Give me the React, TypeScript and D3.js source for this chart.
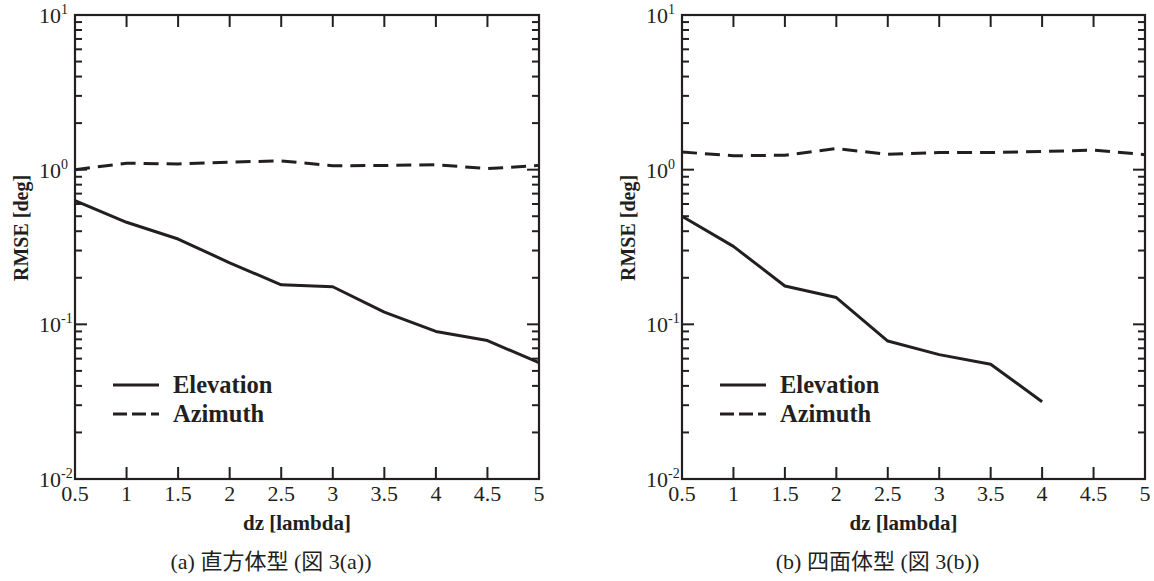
import React from "react";
import * as d3 from "d3";

const dzValues = [0.5, 1, 1.5, 2, 2.5, 3, 3.5, 4, 4.5, 5];
const xTickLabels = ["0.5", "1", "1.5", "2", "2.5", "3", "3.5", "4", "4.5", "5"];
const yDecades = [-2, -1, 0, 1];

// Panel (a) 直方体型
const elevationA = [0.63, 0.457, 0.356, 0.25, 0.18, 0.175, 0.12, 0.09, 0.0785, 0.0565];
const azimuthA = [1.0, 1.1, 1.09, 1.12, 1.14, 1.06, 1.065, 1.077, 1.015, 1.066];
// Panel (b) 四面体型
const elevationB = [0.5, 0.319, 0.177, 0.149, 0.078, 0.0637, 0.0552, 0.0316];
const azimuthB = [1.3, 1.23, 1.24, 1.37, 1.256, 1.29, 1.29, 1.31, 1.34, 1.25];

const legendLabels = ["Elevation", "Azimuth"];
const xAxisTitle = "dz [lambda]";
const yAxisTitle = "RMSE [deg]";
const captionsA = ["(a) ", "直方体型", " (", "図", " 3(a))"];
const captionsB = ["(b) ", "四面体型", " (", "図", " 3(b))"];

const INK = "#231f20";
const SERIF = "Liberation Serif, Times New Roman, Times, DejaVu Serif, serif";
const CJK = "Noto Sans CJK JP, sans-serif";

const serif = (size: number, bold = false): React.CSSProperties => ({
  fontFamily: SERIF,
  fontSize: size,
  fontWeight: bold ? 700 : 400,
});

type PanelProps = {
  left: number;
  right: number;
  elevation: number[];
  azimuth: number[];
  caption: string[];
};

function Panel({ left, right, elevation, azimuth, caption }: PanelProps) {
  const top = 15;
  const bottom = 479;
  const x = d3.scaleLinear().domain([0.5, 5]).range([left, right]);
  const y = d3.scaleLog().domain([0.01, 10]).range([bottom, top]);

  const line = d3
    .line<number>()
    .x((_, i) => x(dzValues[i]))
    .y((d) => y(d));

  const minor: number[] = [];
  for (let e = -2; e < 1; e++) {
    for (let m = 2; m <= 9; m++) minor.push(m * Math.pow(10, e));
  }

  const mid = (left + right) / 2;
  const lx0 = left + 38;
  const lx1 = left + 84;
  const ly1 = 385;
  const ly2 = 414;

  return (
    <g>
      <path d={line(elevation) || ""} fill="none" stroke={INK} strokeWidth={3} strokeLinejoin="round" />
      <path d={line(azimuth) || ""} fill="none" stroke={INK} strokeWidth={3} strokeDasharray="15,8" />

      <rect x={left} y={top} width={right - left} height={bottom - top} fill="none" stroke={INK} strokeWidth={2.2} />

      {dzValues.map((v, i) => (
        <g key={"xt" + i}>
          <line x1={x(v)} x2={x(v)} y1={bottom} y2={bottom - 12} stroke={INK} strokeWidth={2} />
          <line x1={x(v)} x2={x(v)} y1={top} y2={top + 12} stroke={INK} strokeWidth={2} />
          <text x={x(v)} y={bottom + 22} textAnchor="middle" style={serif(22)} fill={INK}>
            {xTickLabels[i]}
          </text>
        </g>
      ))}

      {yDecades.map((e) => {
        const yy = y(Math.pow(10, e));
        return (
          <g key={"yt" + e}>
            <line x1={left} x2={left + 12} y1={yy} y2={yy} stroke={INK} strokeWidth={2} />
            <line x1={right} x2={right - 12} y1={yy} y2={yy} stroke={INK} strokeWidth={2} />
            <text x={left - 14} y={yy + 8} textAnchor="end" style={serif(22)} fill={INK}>
              10
            </text>
            <text x={left - 14} y={yy - 1} textAnchor="start" style={serif(14)} fill={INK}>
              {String(e)}
            </text>
          </g>
        );
      })}
      {minor.map((v, i) => {
        const yy = y(v);
        return (
          <g key={"ym" + i}>
            <line x1={left} x2={left + 7} y1={yy} y2={yy} stroke={INK} strokeWidth={2} />
            <line x1={right} x2={right - 7} y1={yy} y2={yy} stroke={INK} strokeWidth={2} />
          </g>
        );
      })}

      <line x1={lx0} x2={lx1} y1={ly1} y2={ly1} stroke={INK} strokeWidth={3} />
      <line x1={lx0} x2={lx1} y1={ly2} y2={ly2} stroke={INK} strokeWidth={3} strokeDasharray="14,5" />
      <text x={left + 98} y={ly1 + 8} style={serif(24.5, true)} fill={INK}>
        {legendLabels[0]}
      </text>
      <text x={left + 98} y={ly2 + 8} style={serif(24.5, true)} fill={INK}>
        {legendLabels[1]}
      </text>

      <text x={mid - 10} y={530} textAnchor="middle" style={serif(21, true)} fill={INK}>
        {xAxisTitle}
      </text>
      <text
        transform={`translate(${left - 47},228) rotate(-90)`}
        textAnchor="middle"
        style={serif(20, true)}
        fill={INK}
      >
        {yAxisTitle}
      </text>

      <text x={mid - 36} y={569} textAnchor="middle" fill={INK} style={{ fontSize: 22 }}>
        <tspan style={{ fontFamily: SERIF }}>{caption[0]}</tspan>
        <tspan style={{ fontFamily: CJK }}>{caption[1]}</tspan>
        <tspan style={{ fontFamily: SERIF }}>{caption[2]}</tspan>
        <tspan style={{ fontFamily: CJK }}>{caption[3]}</tspan>
        <tspan style={{ fontFamily: SERIF }}>{caption[4]}</tspan>
      </text>
    </g>
  );
}

export default function App() {
  return (
    <svg
      width={1154}
      height={581}
      style={{ position: "absolute", left: 0, top: 0, background: "#fff" }}
    >
      <rect x={0} y={0} width={1154} height={581} fill="#fff" />
      <Panel left={75} right={539} elevation={elevationA} azimuth={azimuthA} caption={captionsA} />
      <Panel left={682} right={1145} elevation={elevationB} azimuth={azimuthB} caption={captionsB} />
    </svg>
  );
}
